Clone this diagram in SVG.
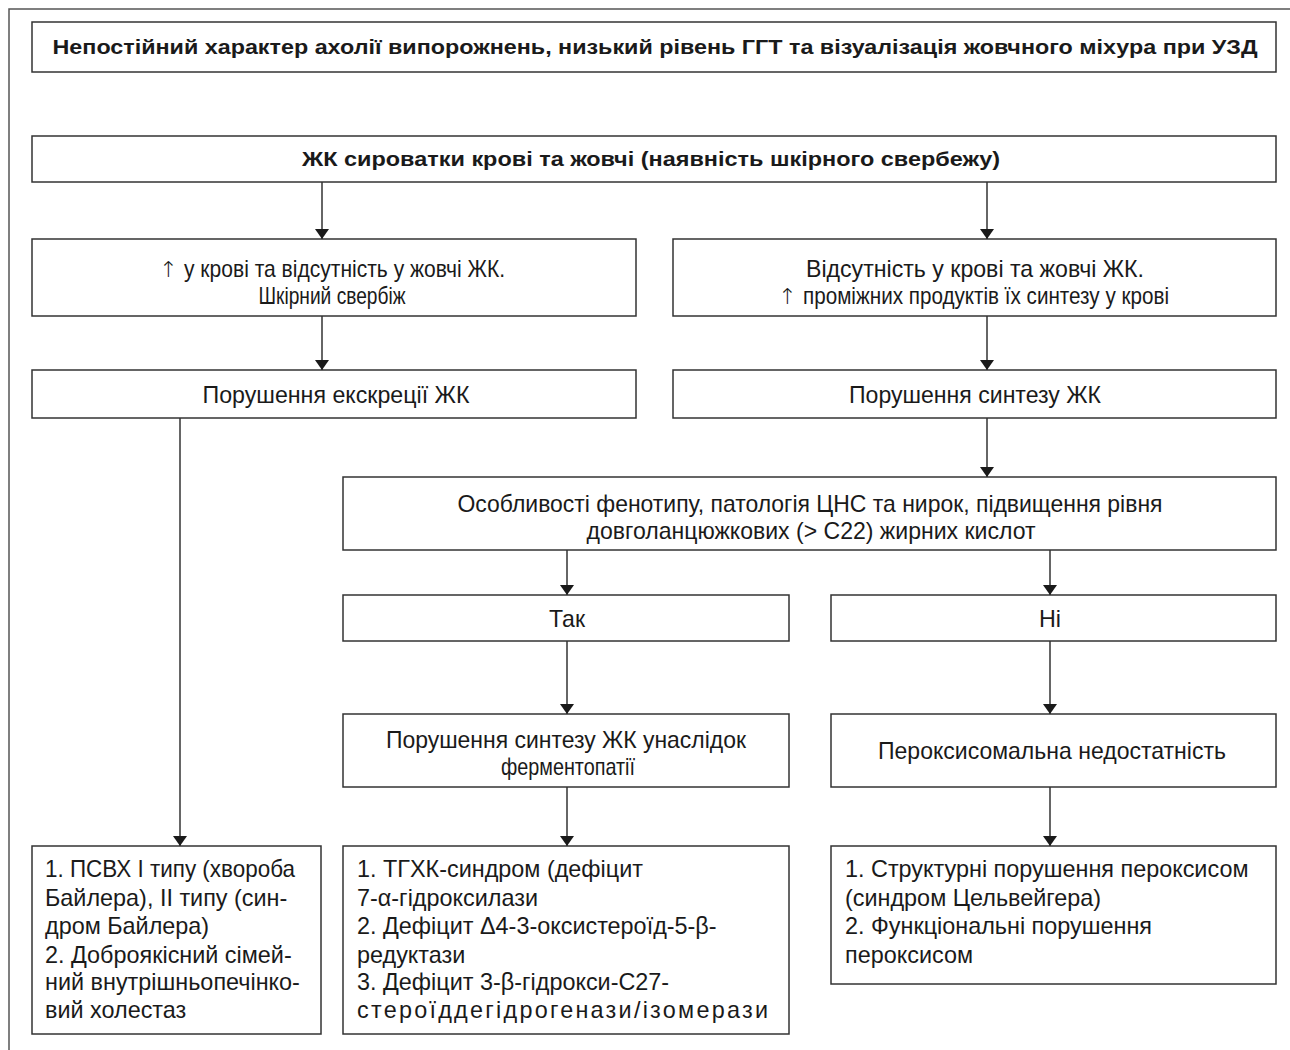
<svg xmlns="http://www.w3.org/2000/svg" width="1290" height="1050" viewBox="0 0 1290 1050">
<defs>
<marker id="ah" viewBox="0 0 10 14" refX="10" refY="7" markerWidth="10" markerHeight="14" markerUnits="userSpaceOnUse" orient="auto">
<path d="M0,0 L10,7 L0,14 z" fill="#1a1a1a"/>
</marker>
<style>
.box{fill:#fff;stroke:#333;stroke-width:1.5}
.t{font-family:"Liberation Sans","DejaVu Sans",Arial,sans-serif;font-size:24px;fill:#1a1a1a}
.s{font-size:23.4px}
.c{text-anchor:middle}
.b{font-weight:bold;font-size:20.5px}
.arr{font-family:"DejaVu Sans",sans-serif;font-size:22px;font-weight:200;fill:#1a1a1a}
.ln{fill:none;stroke:#333;stroke-width:1.5}
.frame{fill:none;stroke:#555;stroke-width:1.5}
</style>
</defs>
<rect width="1290" height="1050" fill="#fff"/>
<path class="frame" d="M9,1050 L9,9 L1290,9"/>

<g id="n1">
<rect class="box" x="32" y="22" width="1244" height="50"/>
<text class="t c b" x="655" y="54" textLength="1205" lengthAdjust="spacingAndGlyphs">Непостійний характер ахолії випорожнень, низький рівень ГГТ та візуалізація жовчного міхура при УЗД</text>
</g>
<g id="n2">
<rect class="box" x="32" y="136" width="1244" height="46"/>
<text class="t c b" x="651" y="166" textLength="698" lengthAdjust="spacingAndGlyphs">ЖК сироватки крові та жовчі (наявність шкірного свербежу)</text>
</g>
<g id="n3">
<rect class="box" x="32" y="239" width="604" height="77"/>
<text class="arr" x="159" y="277">↑</text>
<text class="t" x="184" y="277" textLength="321" lengthAdjust="spacingAndGlyphs">у крові та відсутність у жовчі ЖК.</text>
<text class="t c" x="332" y="304" textLength="147" lengthAdjust="spacingAndGlyphs">Шкірний свербіж</text>
</g>
<g id="n4">
<rect class="box" x="673" y="239" width="603" height="77"/>
<text class="t c" x="975" y="277" textLength="338" lengthAdjust="spacingAndGlyphs">Відсутність у крові та жовчі ЖК.</text>
<text class="arr" x="778" y="304">↑</text>
<text class="t" x="803" y="304" textLength="366" lengthAdjust="spacingAndGlyphs">проміжних продуктів їх синтезу у крові</text>
</g>
<g id="n5">
<rect class="box" x="32" y="370" width="604" height="48"/>
<text class="t c" x="336" y="403" textLength="267" lengthAdjust="spacingAndGlyphs">Порушення екскреції ЖК</text>
</g>
<g id="n6">
<rect class="box" x="673" y="370" width="603" height="48"/>
<text class="t c" x="975" y="403" textLength="252" lengthAdjust="spacingAndGlyphs">Порушення синтезу ЖК</text>
</g>
<g id="n7">
<rect class="box" x="343" y="477" width="933" height="73"/>
<text class="t c" x="810" y="512" textLength="705" lengthAdjust="spacingAndGlyphs">Особливості фенотипу, патологія ЦНС та нирок, підвищення рівня</text>
<text class="t c" x="811" y="539" textLength="449" lengthAdjust="spacingAndGlyphs">довголанцюжкових (&gt; С22) жирних кислот</text>
</g>
<g id="n8">
<rect class="box" x="343" y="595" width="446" height="46"/>
<text class="t c" x="567" y="627" textLength="36" lengthAdjust="spacingAndGlyphs">Так</text>
</g>
<g id="n9">
<rect class="box" x="831" y="595" width="445" height="46"/>
<text class="t c" x="1050" y="627" textLength="22" lengthAdjust="spacingAndGlyphs">Ні</text>
</g>
<g id="n10">
<rect class="box" x="343" y="714" width="446" height="73"/>
<text class="t c" x="566" y="748" textLength="360" lengthAdjust="spacingAndGlyphs">Порушення синтезу ЖК унаслідок</text>
<text class="t c" x="568" y="775" textLength="134" lengthAdjust="spacingAndGlyphs">ферментопатії</text>
</g>
<g id="n11">
<rect class="box" x="831" y="714" width="445" height="73"/>
<text class="t c" x="1052" y="759" textLength="348" lengthAdjust="spacingAndGlyphs">Пероксисомальна недостатність</text>
</g>
<g id="n12">
<rect class="box" x="32" y="846" width="289" height="188"/>
<text class="t s" x="45" y="877" textLength="250" lengthAdjust="spacingAndGlyphs">1. ПСВХ І типу (хвороба</text>
<text class="t s" x="45" y="905.5">Байлера), ІІ типу (син-</text>
<text class="t s" x="45" y="934">дром Байлера)</text>
<text class="t s" x="45" y="962.5">2. Доброякісний сімей-</text>
<text class="t s" x="45" y="990">ний внутрішньопечінко-</text>
<text class="t s" x="45" y="1018">вий холестаз</text>
</g>
<g id="n13">
<rect class="box" x="343" y="846" width="446" height="188"/>
<text class="t s" x="357" y="877">1. ТГХК-синдром (дефіцит</text>
<text class="t s" x="357" y="905.5">7-α-гідроксилази</text>
<text class="t s" x="357" y="934">2. Дефіцит Δ4-3-оксистероїд-5-β-</text>
<text class="t s" x="357" y="962.5">редуктази</text>
<text class="t s" x="357" y="990">3. Дефіцит 3-β-гідрокси-С27-</text>
<text class="t s" x="357" y="1018" textLength="411" lengthAdjust="spacing">стероїддегідрогенази/ізомерази</text>
</g>
<g id="n14">
<rect class="box" x="831" y="846" width="445" height="138"/>
<text class="t s" x="845" y="877">1. Структурні порушення пероксисом</text>
<text class="t s" x="845" y="905.5">(синдром Цельвейгера)</text>
<text class="t s" x="845" y="934">2. Функціональні порушення</text>
<text class="t s" x="845" y="962.5">пероксисом</text>
</g>

<g id="connectors">
<line class="ln" x1="322" y1="182" x2="322" y2="239" marker-end="url(#ah)"/>
<line class="ln" x1="987" y1="182" x2="987" y2="239" marker-end="url(#ah)"/>
<line class="ln" x1="322" y1="316" x2="322" y2="370" marker-end="url(#ah)"/>
<line class="ln" x1="987" y1="316" x2="987" y2="370" marker-end="url(#ah)"/>
<line class="ln" x1="180" y1="418" x2="180" y2="846" marker-end="url(#ah)"/>
<line class="ln" x1="987" y1="418" x2="987" y2="477" marker-end="url(#ah)"/>
<line class="ln" x1="567" y1="550" x2="567" y2="595" marker-end="url(#ah)"/>
<line class="ln" x1="1050" y1="550" x2="1050" y2="595" marker-end="url(#ah)"/>
<line class="ln" x1="567" y1="641" x2="567" y2="714" marker-end="url(#ah)"/>
<line class="ln" x1="1050" y1="641" x2="1050" y2="714" marker-end="url(#ah)"/>
<line class="ln" x1="567" y1="787" x2="567" y2="846" marker-end="url(#ah)"/>
<line class="ln" x1="1050" y1="787" x2="1050" y2="846" marker-end="url(#ah)"/>
</g>
</svg>
